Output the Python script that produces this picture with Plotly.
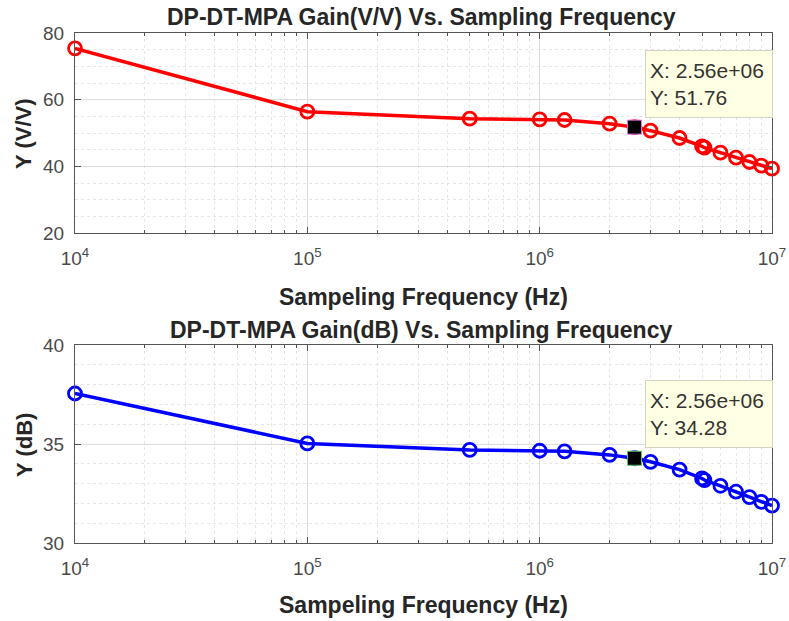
import plotly.graph_objects as go

freq_hz = [1e4, 1e5, 5e5, 1e6, 1.28e6, 2e6, 2.56e6, 3e6, 4e6, 5e6, 5.12e6, 6e6, 7e6, 8e6, 9e6, 1e7]
gain_vv = [75.4, 56.4, 54.3, 54.1, 53.9, 52.8, 51.76, 50.7, 48.5, 46.0, 45.6, 44.1, 42.6, 41.3, 40.2, 39.3]
gain_db = [37.55, 35.03, 34.70, 34.66, 34.63, 34.45, 34.28, 34.10, 33.71, 33.26, 33.18, 32.89, 32.59, 32.32, 32.08, 31.89]

tip_x = [2.56e6]
tip_vv = [51.76]
tip_db = [34.28]

major_x = [1e4, 1e5, 1e6, 1e7]
major_x_text = ["10<sup>4</sup>", "10<sup>5</sup>", "10<sup>6</sup>", "10<sup>7</sup>"]
minor_x = [m * d for d in [1e4, 1e5, 1e6] for m in range(2, 10)]

title_top = "DP-DT-MPA Gain(V/V) Vs. Sampling Frequency"
title_bot = "DP-DT-MPA Gain(dB) Vs. Sampling Frequency"
xlabel = "Sampeling Frequency (Hz)"
ylabel_top = "Y (V/V)"
ylabel_bot = "Y (dB)"

FONT = "Liberation Sans, Arial, Helvetica, sans-serif"
W, H = 789, 621

def px(x):
    return x / W

def py(y):
    return 1 - y / H

fig = go.Figure()

fig.add_trace(go.Scatter(x=freq_hz, y=gain_vv, mode="lines+markers",
                         line=dict(color="#ff0000", width=3.5),
                         marker=dict(symbol="circle-open", size=13, color="#ff0000", line=dict(width=2.8)),
                         xaxis="x", yaxis="y", showlegend=False, cliponaxis=False))
fig.add_trace(go.Scatter(x=tip_x, y=tip_vv, mode="markers",
                         marker=dict(symbol="square", size=14, color="black", line=dict(width=1, color="#e070e0")),
                         xaxis="x", yaxis="y", showlegend=False))
fig.add_trace(go.Scatter(x=freq_hz, y=gain_db, mode="lines+markers",
                         line=dict(color="#0000ff", width=3.5),
                         marker=dict(symbol="circle-open", size=13, color="#0000ff", line=dict(width=2.8)),
                         xaxis="x2", yaxis="y2", showlegend=False, cliponaxis=False))
fig.add_trace(go.Scatter(x=tip_x, y=tip_db, mode="markers",
                         marker=dict(symbol="square", size=14, color="black", line=dict(width=1, color="#60c060")),
                         xaxis="x2", yaxis="y2", showlegend=False))

xdom = [px(75), px(772)]

def xaxis_cfg(anchor):
    return dict(type="log", domain=xdom, anchor=anchor, range=[4, 7], automargin=False,
                tickmode="array", tickvals=major_x, ticktext=major_x_text,
                ticks="inside", ticklen=6, tickcolor="#555", tickwidth=1,
                showline=True, linecolor="#555", linewidth=1, mirror="allticks",
                showgrid=True, gridcolor="#dcdcdc", gridwidth=1,
                tickfont=dict(family=FONT, size=19, color="#4a4a4a"),
                ticklabelstandoff=8,
                minor=dict(tickmode="array", tickvals=minor_x, ticks="inside", ticklen=3,
                           tickcolor="#555", showgrid=True, gridcolor="#e6e6e6", griddash="dot"),
                zeroline=False, fixedrange=True)

def yaxis_cfg(anchor, dom, rng, dt, mdt):
    return dict(domain=dom, anchor=anchor, range=rng, dtick=dt, tick0=rng[0], automargin=False,
                ticks="inside", ticklen=6, tickcolor="#555",
                showline=True, linecolor="#555", linewidth=1, mirror="allticks",
                showgrid=True, gridcolor="#dcdcdc",
                tickfont=dict(family=FONT, size=19, color="#4a4a4a"),
                ticklabelstandoff=6,
                minor=dict(dtick=mdt, tick0=rng[0], showgrid=True, gridcolor="#e6e6e6", griddash="dot"),
                zeroline=False, fixedrange=True)

fig.update_layout(
    width=W, height=H, margin=dict(l=0, r=0, t=0, b=0),
    paper_bgcolor="white", plot_bgcolor="white",
    font=dict(family=FONT),
    xaxis=xaxis_cfg("y"),
    yaxis=yaxis_cfg("x", [py(233), py(33)], [20, 80], 20, 5),
    xaxis2=xaxis_cfg("y2"),
    yaxis2=yaxis_cfg("x2", [py(543), py(345)], [30, 40], 5, 1),
)

ann = []
def text_ann(t, x, y, size=23, angle=0):
    ann.append(dict(text="<b>%s</b>" % t, x=px(x), y=py(y), xref="paper", yref="paper",
                    showarrow=False, xanchor="center", yanchor="middle", textangle=angle,
                    font=dict(family=FONT, size=size, color="#262626")))

text_ann(title_top, 421, 17)
text_ann(title_bot, 421, 330)
text_ann(xlabel, 423, 297)
text_ann(xlabel, 423, 605)
text_ann(ylabel_top, 24, 134, size=22, angle=-90)
text_ann(ylabel_bot, 24, 445, size=22, angle=-90)

def tip_ann(xv, yv, top):
    ann.append(dict(text="X: %.2e<br>Y: %.2f" % (xv, yv), x=px(645), y=py(top), xref="paper", yref="paper",
                    showarrow=False, xanchor="left", yanchor="top", align="left",
                    width=118, height=58, bgcolor="#ffffe4", bordercolor="#d4d4c4", borderwidth=1,
                    borderpad=4, font=dict(family=FONT, size=21, color="#333333")))

tip_ann(tip_x[0], tip_vv[0], 50)
tip_ann(tip_x[0], tip_db[0], 380)

fig.update_layout(annotations=ann)
fig.write_html("out.html")
